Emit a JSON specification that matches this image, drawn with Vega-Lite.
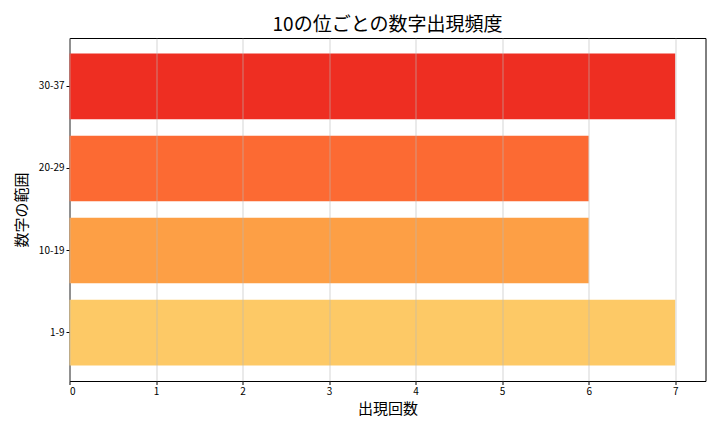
{
  "$schema": "https://vega.github.io/schema/vega-lite/v6.json",
  "width": 636,
  "height": 343,
  "autosize": "none",
  "padding": {"left": 69.5, "top": 38, "right": 14.5, "bottom": 51},
  "background": "white",
  "title": {
    "text": "10の位ごとの数字出現頻度",
    "font": "Noto Sans CJK JP",
    "fontSize": 19,
    "fontWeight": "normal",
    "color": "#000000",
    "anchor": "middle",
    "offset": 3
  },
  "data": {
    "values": [
      {"range": "1-9", "count": 7, "color": "#fdc966"},
      {"range": "10-19", "count": 6, "color": "#fd9f45"},
      {"range": "20-29", "count": 6, "color": "#fc6a33"},
      {"range": "30-37", "count": 7, "color": "#ee2e22"}
    ]
  },
  "config": {
    "view": {"stroke": "#000000", "strokeWidth": 1},
    "axis": {
      "labelFont": "Noto Sans CJK JP",
      "titleFont": "Noto Sans CJK JP",
      "labelFontSize": 10,
      "titleFontSize": 15,
      "titleFontWeight": "normal",
      "labelColor": "#000000",
      "titleColor": "#000000",
      "tickColor": "#000000",
      "domain": false,
      "tickSize": 3.5
    }
  },
  "mark": {"type": "bar"},
  "encoding": {
    "y": {
      "field": "range",
      "type": "nominal",
      "sort": ["30-37", "20-29", "10-19", "1-9"],
      "scale": {"paddingInner": 0.2, "paddingOuter": 0.19},
      "axis": {"title": "数字の範囲", "labelAngle": 0, "labelPadding": 2, "titlePadding": 9, "grid": false}
    },
    "x": {
      "field": "count",
      "type": "quantitative",
      "scale": {"domain": [0, 7.35], "nice": false},
      "axis": {"title": "出現回数", "values": [0, 1, 2, 3, 4, 5, 6, 7], "grid": true, "gridColor": "#b8b8b8", "gridWidth": 0.6, "labelPadding": 2, "titlePadding": 5, "zindex": 1}
    },
    "color": {"field": "color", "type": "nominal", "scale": null, "legend": null}
  }
}
